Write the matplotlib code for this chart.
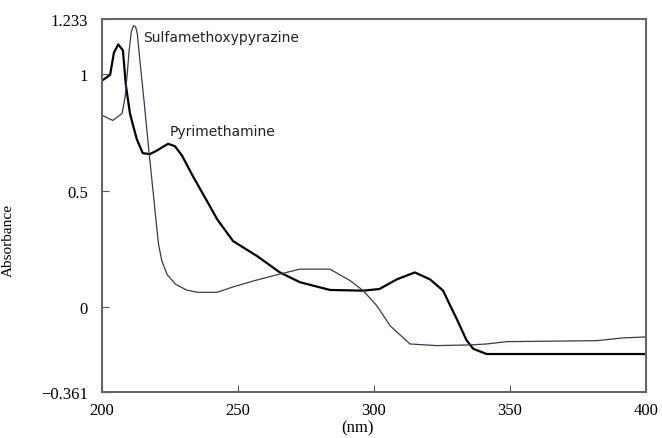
import matplotlib.pyplot as plt

# thick curve
nm_a = [200, 203, 204.4, 206, 207.7, 208.8, 210.3, 211.4, 212.8, 215, 217.6, 220, 224.3, 226.8,
        229.4, 233.5, 240.8, 242.3, 248.2, 257, 265.4, 272.8, 283.8, 296, 302, 308.3,
        315, 320.6, 325.4, 328, 330.4, 334, 336.5, 341.4, 400]
abs_a = [0.97, 0.995, 1.09, 1.125, 1.10, 0.95, 0.83, 0.78, 0.72, 0.66, 0.656, 0.67, 0.70, 0.69,
         0.65, 0.56, 0.41, 0.378, 0.284, 0.22, 0.15, 0.108, 0.075, 0.072, 0.079, 0.12,
         0.15, 0.12, 0.072, 0.008, -0.049, -0.14, -0.177, -0.199, -0.199]

# thin curve
nm_b = [200.4, 204, 207.4, 208.5, 209.3, 210, 210.8, 211.6, 212.4, 213, 214, 215.5, 217,
        218.5, 219.8, 220.8, 222, 224, 227, 231, 235, 242.3, 248.2, 255.5, 264.3, 272.8,
        283.8, 291.2, 296, 301, 305.9, 313.2, 323, 335.3, 341.4, 348.8, 381.8, 391.5, 400]
abs_b = [0.82, 0.80, 0.83, 0.90, 1.0, 1.1, 1.18, 1.205, 1.2, 1.17, 1.05, 0.88, 0.70,
         0.53, 0.38, 0.27, 0.20, 0.14, 0.10, 0.075, 0.065, 0.065, 0.088, 0.113, 0.14, 0.164,
         0.164, 0.115, 0.072, 0.008, -0.078, -0.156, -0.163, -0.16, -0.156, -0.146, -0.142,
         -0.13, -0.126]

xticks = [200, 250, 300, 350, 400]
yticks = [-0.361, 0, 0.5, 1, 1.233]
ylabels = ["\u22120.361", "0", "0.5", "1", "1.233"]

fig = plt.figure(figsize=(6.62, 4.39), dpi=100)
ax = fig.add_axes([0.154, 0.105, 0.822, 0.849])

ax.plot(nm_a, abs_a, color="black", lw=1.6)
ax.plot(nm_b, abs_b, color="#3a3a48", lw=0.9)

ax.text(215, 1.156, "Sulfamethoxypyrazine", fontsize=10, va="center", ha="left", color="#222222")
ax.text(225, 0.754, "Pyrimethamine", fontsize=10, va="center", ha="left", color="#222222")

ax.set_xlim(200, 400)
ax.set_ylim(-0.361, 1.233)
ax.set_xticks(xticks)
ax.set_xticklabels([str(t) for t in xticks], family="Liberation Serif", fontsize=12)
ax.set_yticks(yticks)
ax.set_yticklabels(ylabels, family="Liberation Serif", fontsize=12)
ax.tick_params(direction="in", length=5, color="#555555")
ax.tick_params(axis="y", pad=10)
ax.tick_params(axis="x", pad=7)

for s in ax.spines.values():
    s.set_color("#666666")
    s.set_linewidth(1.5)

ax.set_ylabel("Absorbance", family="Liberation Serif", fontsize=11)
ax.yaxis.set_label_coords(-0.16, 0.41)
ax.set_xlabel("(nm)", family="Liberation Serif", fontsize=12)
ax.xaxis.set_label_coords(0.47, -0.075)

fig.savefig("out.png", dpi=100)
